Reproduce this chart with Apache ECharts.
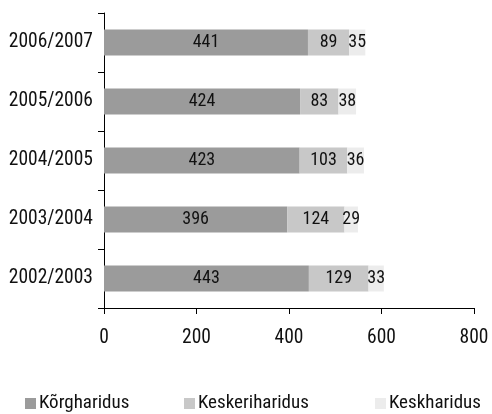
<!DOCTYPE html>
<html><head><meta charset="utf-8">
<script src="https://cdn.jsdelivr.net/npm/echarts@6/dist/echarts.min.js"></script>
<style>html,body{margin:0;padding:0;background:#fff}#c{width:492px;height:414px}</style>
</head><body><div id="c"></div>
<script>
const categories = ['2002/2003','2003/2004','2004/2005','2005/2006','2006/2007'];
const korgharidus = [443, 396, 423, 424, 441];
const keskeriharidus = [129, 124, 103, 83, 89];
const keskharidus = [33, 29, 36, 38, 35];
const xTicks = [0, 200, 400, 600, 800];
const seriesNames = ['Kõrgharidus', 'Keskeriharidus', 'Keskharidus'];

const FONT = 'Roboto, "Liberation Sans", Arial, sans-serif';
const F = {fontFamily: FONT, fontStyle: 'normal', fontWeight: 'condensed'};
const colors = ['#9b9b9b', '#c8c8c8', '#ececec'];
const chart = echarts.init(document.getElementById('c'));
const lbl = Object.assign({show: true, position: 'inside', color: '#111', fontSize: 18}, F);
const mk = (name, data, i) => ({
  name, type: 'bar', stack: 'a', data, barWidth: 26,
  itemStyle: {color: colors[i]}, label: lbl, animation: false
});
const legendCommon = {
  itemWidth: 11, itemHeight: 11, icon: 'rect', top: 394,
  textStyle: Object.assign({fontSize: 19, color: '#111', padding: [0,0,0,-2]}, F),
  padding: 0
};
chart.setOption({
  animation: false,
  grid: {left: 104, right: 18, top: 13, bottom: 106},
  legend: [
    Object.assign({left: 25, data: [seriesNames[0]]}, legendCommon),
    Object.assign({left: 184, data: [seriesNames[1]]}, legendCommon),
    Object.assign({left: 375, data: [seriesNames[2]]}, legendCommon)
  ],
  xAxis: {
    type: 'value', min: xTicks[0], max: xTicks[xTicks.length-1], interval: 200,
    splitLine: {show: false},
    axisLine: {show: true, lineStyle: {color: '#000', width: 1}},
    axisTick: {show: true, length: 6, lineStyle: {color: '#000'}},
    axisLabel: Object.assign({fontSize: 19.5, color: '#111', margin: 20}, F)
  },
  yAxis: {
    type: 'category', data: categories,
    axisLine: {show: true, lineStyle: {color: '#000', width: 1}},
    axisTick: {show: true, length: 6, alignWithLabel: false, lineStyle: {color: '#000'}},
    axisLabel: Object.assign({fontSize: 19.5, color: '#111', margin: 11}, F)
  },
  series: [
    mk(seriesNames[0], korgharidus, 0),
    mk(seriesNames[1], keskeriharidus, 1),
    mk(seriesNames[2], keskharidus, 2)
  ]
});
</script></body></html>
